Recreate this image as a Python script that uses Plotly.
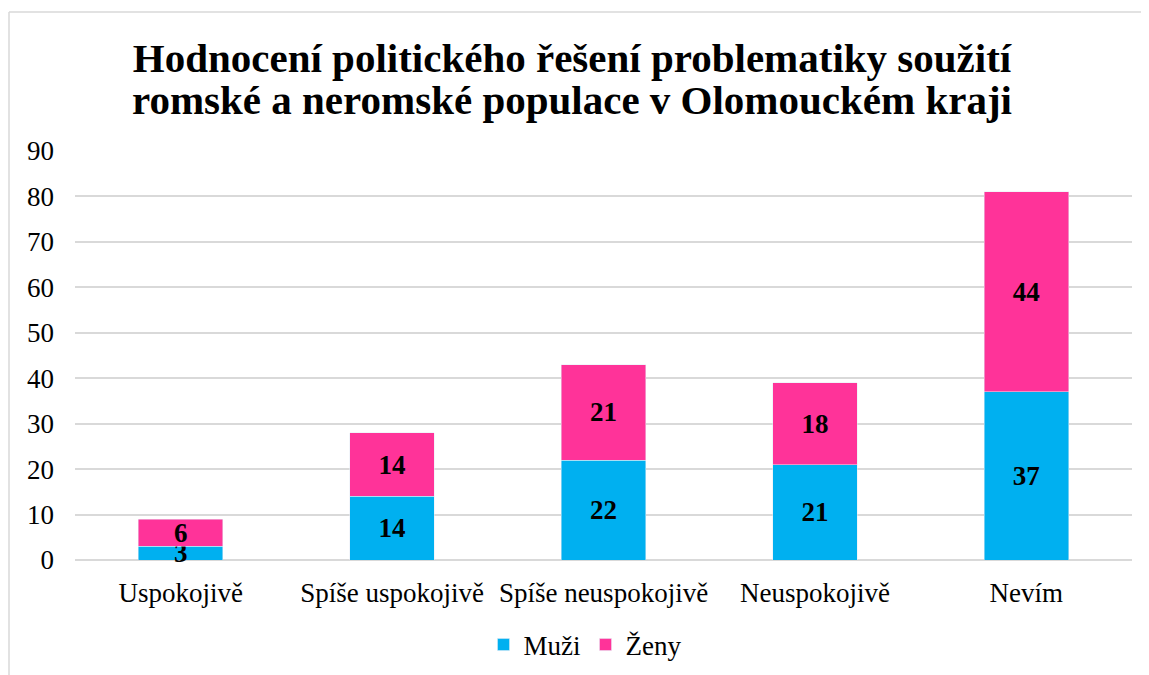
import plotly.graph_objects as go

categories = ["Uspokojivě", "Spíše uspokojivě", "Spíše neuspokojivě", "Neuspokojivě", "Nevím"]
muzi = [3, 14, 22, 21, 37]
zeny = [6, 14, 21, 18, 44]
y_ticks = [0, 10, 20, 30, 40, 50, 60, 70, 80, 90]
title_lines = ["Hodnocení politického řešení problematiky soužití",
               "romské a neromské populace v Olomouckém kraji"]

FONT = "Liberation Serif"
OFF = 8  # page body margin
PW, PH = 1149, 675
W, H = PW - OFF, PH - OFF
# plot area in page pixels: x 75..1132, y 151..560
ml = 75 - OFF
mt = 151 - OFF
mr = PW - 1132
mb = PH - 560
pw, ph = W - ml - mr, H - mt - mb

def px_x(x):
    return (x - OFF - ml) / pw

def px_y(y):
    return (H - mb - (y - OFF)) / ph

LBL = 27
fig = go.Figure()
for name, vals, col in [("Muži", muzi, "#00B0F0"), ("Ženy", zeny, "#FF3399")]:
    fig.add_trace(go.Bar(
        name=name, x=categories, y=vals, marker_color=col,
        text=vals, textposition="inside", insidetextanchor="middle", textangle=0,
        textfont=dict(family=FONT, size=LBL, color="black", weight="bold"),
        constraintext="none", cliponaxis=False,
    ))

TITLE_X = (572 - OFF) / W
fig.update_layout(
    barmode="stack",
    bargap=0.6,
    width=W, height=H,
    margin=dict(l=ml, r=mr, t=mt, b=mb, autoexpand=False),
    paper_bgcolor="white", plot_bgcolor="white",
    font=dict(family=FONT, size=27, color="black"),
    uniformtext=dict(mode="show", minsize=LBL),
    title=dict(
        text="<b>" + title_lines[0] + "</b>",
        x=TITLE_X, xref="container", xanchor="center",
        y=1 - (58 - OFF) / H, yanchor="middle", yref="container",
        font=dict(family=FONT, size=41, color="black"),
    ),
    annotations=[dict(
        text="<b>" + title_lines[1] + "</b>",
        x=px_x(572), xref="paper", xanchor="center",
        y=px_y(100), yref="paper", yanchor="middle", showarrow=False,
        font=dict(family=FONT, size=41, color="black"),
    )],
    legend=dict(
        orientation="h", x=px_x(585), xanchor="center", xref="paper",
        y=px_y(645), yanchor="middle",
        font=dict(family=FONT, size=27), itemwidth=30,
        traceorder="normal",
    ),
    xaxis=dict(showgrid=False, showline=False, ticks="", tickfont=dict(size=27),
               ticklabelstandoff=14),
    yaxis=dict(
        range=[0, 90], tickvals=y_ticks, showgrid=True, gridcolor="#D9D9D9",
        gridwidth=1.5, zeroline=True, zerolinecolor="#D9D9D9", zerolinewidth=1.5,
        ticks="", tickfont=dict(size=27), ticklabelstandoff=20,
    ),
    shapes=[
        dict(type="line", xref="paper", yref="paper", x0=px_x(9), x1=px_x(PW + 5),
             y0=px_y(12), y1=px_y(12), line=dict(color="#D9D9D9", width=1.5)),
        dict(type="line", xref="paper", yref="paper", x0=px_x(9), x1=px_x(9),
             y0=px_y(12), y1=px_y(PH + 5), line=dict(color="#D9D9D9", width=1.5)),
    ],
)

fig.write_html("out.html")
